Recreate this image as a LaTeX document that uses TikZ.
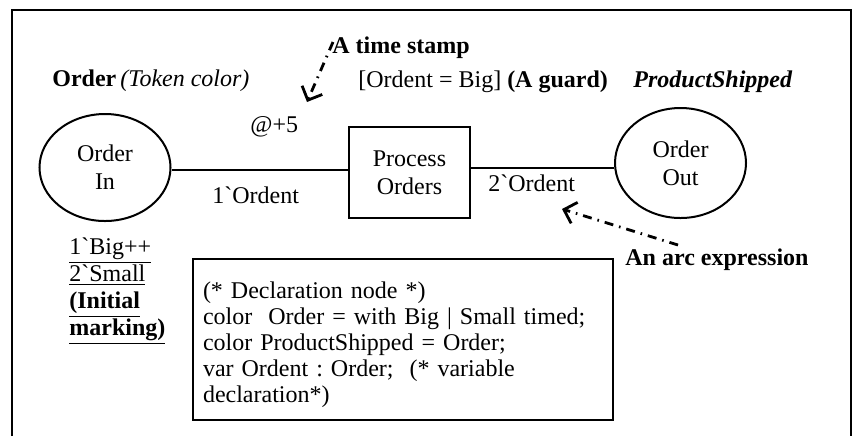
\documentclass[tikz,border=0pt]{standalone}
\usepackage{fontspec}
\setmainfont{Liberation Serif}
\usetikzlibrary{shapes.geometric,arrows.meta}
\newcommand\gq{\XeTeXglyph\XeTeXcharglyph"60\relax}
\frenchspacing
\begin{document}
\begin{tikzpicture}[x=0.5pt,y=-0.5pt,
  every node/.style={font=\fontsize{12}{12.9}\selectfont, inner sep=0pt},
  place/.style={draw, ellipse, line width=1pt, align=center, inner sep=0pt,
    font=\fontsize{12}{14}\selectfont},
  trans/.style={draw, rectangle, line width=1pt, align=center,
    minimum width=60.5pt, minimum height=45.5pt, font=\fontsize{12}{14}\selectfont},
  lbl/.style={anchor=base west},
  arcline/.style={line width=1pt},
  note/.style={line width=1.4pt, dash pattern=on 4.5pt off 3pt on 0.8pt off 3pt,
    -{Straight Barb[length=5.5pt,width=11pt,line width=1.4pt]}},
  decl/.style={draw, line width=1pt, align=left, text width=200pt, inner xsep=5pt,
    minimum height=80.5pt, font=\fontsize{12}{12.9}\selectfont},
]
\useasboundingbox (0,0) rectangle (854,436);
% frame
\draw[line width=1pt] (12,436) -- (12,10) -- (851,10) -- (851,436);

% places and transition
\node[place, minimum width=65.5pt, minimum height=53.5pt] (inp) at (105,167.5) {Order\\In};
\node[trans] (proc) at (409.5,172.5) {Process\\Orders};
\node[place, minimum width=65.5pt, minimum height=55pt] (out) at (680.5,163) {Order\\Out};

% arcs
\coordinate (yl) at (0,170);
\coordinate (yr) at (0,168);
\draw[arcline] (inp.east |- yl) -- (proc.west |- yl);
\draw[arcline] (proc.east |- yr) -- (out.west |- yr);

% labels
\node[lbl] (tok) at (52,86) {\textbf{Order}\,\textit{(Token color)}};
\node[lbl] (ts) at (332,53) {\textbf{A time stamp}};
\node[lbl] (guard) at (358,87) {[Ordent = Big] \textbf{(A guard)}};
\node[lbl] (ps) at (633,87) {\textbf{\textit{ProductShipped}}};
\node[lbl] (at5) at (250,132) {@+5};
\node[lbl] (a1) at (212,203) {1\gq Ordent};
\node[lbl] (a2) at (488,191) {2\gq Ordent};
\node[lbl] (ae) at (625,265) {\textbf{An arc expression}};

% initial marking
\node[lbl] (m1) at (69,254) {\underline{1\gq Big++}};
\node[lbl] (m2) at (69,281) {\underline{2\gq Small}};
\node[lbl] (m3) at (69,308) {\textbf{\underline{(Initial}}};
\node[lbl] (m4) at (69,335) {\textbf{\underline{marking)}}};

% declaration node
\node[decl] (dec) at (403,339.5) {\rule{0pt}{13.5pt}(* Declaration node *)\\
color\ \ Order = with Big | Small timed;\\
color ProductShipped = Order;\\
var Ordent : Order;\ \ (* variable\\
declaration*)};

% annotation arrows
\coordinate (t1) at (333,42);
\coordinate (t2) at (307,102);
\draw[note] (t1) -- (t2);
\coordinate (e1) at (678,245);
\coordinate (e2) at (562,209);
\draw[note] (e1) -- (e2);
\end{tikzpicture}
\end{document}
